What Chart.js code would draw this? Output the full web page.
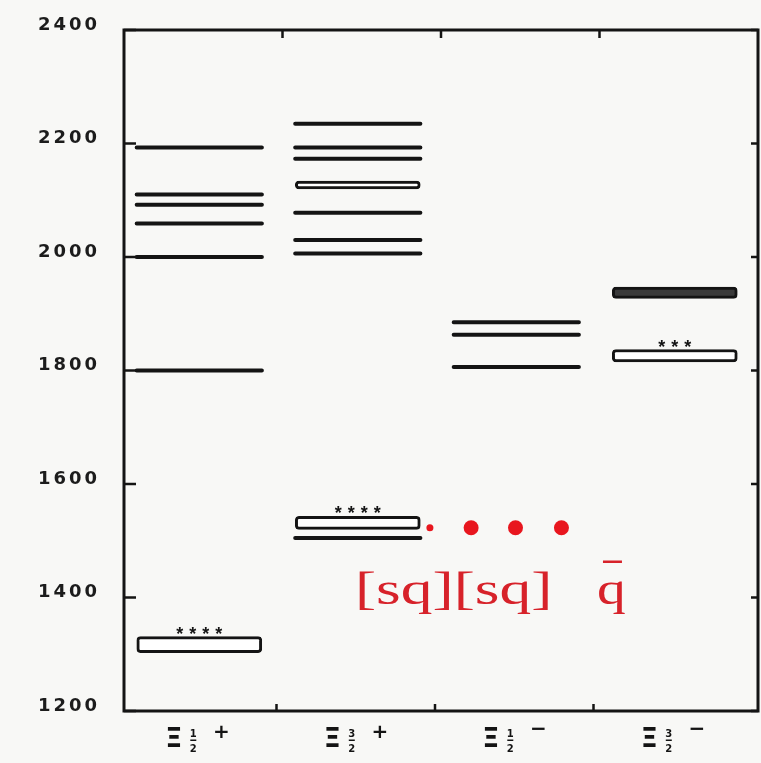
<!DOCTYPE html>
<html>
<head>
<meta charset="utf-8">
<script src="https://cdn.jsdelivr.net/npm/chart.js@4.4.1/dist/chart.umd.min.js"></script>
<style>
  html, body { margin: 0; padding: 0; background: #f8f8f6; overflow: hidden; }
  #wrap { width: 761px; height: 763px; }
  canvas { display: block; }
</style>
</head>
<body>
<div id="wrap"><canvas id="levels"></canvas></div>
<script>
// columns: Xi 1/2+, Xi 3/2+, Xi 1/2-, Xi 3/2-
const categories = ["Ξ1/2+", "Ξ3/2+", "Ξ1/2−", "Ξ3/2−"];
const spinNumerators = ["1", "3", "1", "3"];
const spinDenominator = "2";
const parities = ["+", "+", "−", "−"];
const yTicks = [1200, 1400, 1600, 1800, 2000, 2200, 2400];

// single levels (MeV)
const levelsHalfPlus = [1800, 2000, 2059, 2092, 2110, 2193];
const levelsThreeHalfPlus = [1505, 2006, 2030, 2078, 2173, 2193, 2235];
const levelsHalfMinus = [1806, 1863, 1885];
const levelsThreeHalfMinus = [];

// boxed levels [low, high] (MeV)
const boxesHalfPlus = [[1303, 1331]];
const boxesThreeHalfPlus = [[1520, 1543], [2120, 2134]];
const boxesHalfMinus = [];
const boxesThreeHalfMinus = [[1815, 1837], [1927, 1947]];

// star ratings over the boxes
const starsHalfPlus = ["****"];
const starsThreeHalfPlus = ["****", ""];
const starsHalfMinus = [];
const starsThreeHalfMinus = ["***", ""];

// red diquark prediction
const dotsX = [1.93, 2.19, 2.47, 2.76];
const dotsY = [1523, 1523, 1523, 1523];
const quarkText = "[sq][sq]";
const antiquarkText = "q";
const quarkTextX = 1.457;
const antiquarkTextX = 2.984;
const quarkTextY = 1389;

const levelColumns = [levelsHalfPlus, levelsThreeHalfPlus, levelsHalfMinus, levelsThreeHalfMinus];
const boxColumns = [boxesHalfPlus, boxesThreeHalfPlus, boxesHalfMinus, boxesThreeHalfMinus];
const starColumns = [starsHalfPlus, starsThreeHalfPlus, starsHalfMinus, starsThreeHalfMinus];

const SPAN_FROM = 0.08;
const SPAN_TO = 0.87;
const colCenter = (i) => i + (SPAN_FROM + SPAN_TO) / 2;

const levelPoints = [];
levelColumns.forEach((col, i) => {
  col.forEach((m) => {
    levelPoints.push({ x: i + SPAN_FROM, y: m });
    levelPoints.push({ x: i + SPAN_TO, y: m });
    levelPoints.push({ x: i + SPAN_TO, y: null });
  });
});

const boxPoints = [];
const boxStars = [];
boxColumns.forEach((col, i) => {
  col.forEach((b, k) => {
    boxPoints.push({ x: colCenter(i), y: [b[0], b[1]], dark: i === 3 && k === 1 });
    boxStars.push({ x: colCenter(i), y: b[1], text: starColumns[i][k] || "" });
  });
});

const INK = "#141414";

const noPadding = (s) => {
  s.paddingTop = 0;
  s.paddingBottom = 0;
  s.paddingLeft = 0;
  s.paddingRight = 0;
};

const framePlugin = {
  id: "frame",
  beforeDraw(chart) {
    chart.ctx.letterSpacing = "3px";
  },
  beforeDatasetsDraw(chart) {
    chart.ctx.letterSpacing = "0px";
  },
  afterDraw(chart) {
    const { ctx, chartArea: a, scales } = chart;
    const xs = scales.x;
    const ys = scales.y;
    ctx.save();
    ctx.letterSpacing = "0px";
    ctx.strokeStyle = INK;
    ctx.lineWidth = 3;
    ctx.strokeRect(a.left, a.top, a.right - a.left, a.bottom - a.top);

    // inward ticks
    ctx.lineWidth = 2.5;
    ctx.beginPath();
    yTicks.forEach((v) => {
      const py = ys.getPixelForValue(v);
      ctx.moveTo(a.left, py);
      ctx.lineTo(a.left + 12, py);
      ctx.moveTo(a.right, py);
      ctx.lineTo(a.right - 7, py);
    });
    [1, 2, 3].forEach((v) => {
      const px = xs.getPixelForValue(v);
      ctx.moveTo(px, a.top);
      ctx.lineTo(px, a.top + 8);
      ctx.moveTo(px - 6, a.bottom);
      ctx.lineTo(px - 6, a.bottom - 7);
    });
    ctx.stroke();

    // stars over the boxes
    ctx.fillStyle = INK;
    ctx.font = "bold 18px 'Liberation Sans'";
    ctx.textAlign = "center";
    ctx.textBaseline = "alphabetic";
    ctx.letterSpacing = "6px";
    boxStars.forEach((s) => {
      if (!s.text) return;
      ctx.fillText(s.text, xs.getPixelForValue(s.x) + 3, ys.getPixelForValue(s.y) + 3);
    });
    ctx.letterSpacing = "0px";

    // category labels
    categories.forEach((c, i) => {
      const left = xs.getPixelForValue(colCenter(i)) - 34;
      ctx.fillStyle = INK;
      ctx.textAlign = "left";
      ctx.font = "bold 27px 'DejaVu Sans'";
      ctx.fillText("Ξ", left, 747);
      ctx.textAlign = "center";
      ctx.font = "bold 10px 'DejaVu Sans'";
      const fx = left + 28;
      ctx.fillText(spinNumerators[i], fx, 737);
      ctx.fillText(spinDenominator, fx, 752);
      ctx.fillRect(fx - 3, 739.5, 6, 1.5);
      ctx.font = "bold 20px 'DejaVu Sans'";
      ctx.fillText(parities[i], left + 56, parities[i] === "+" ? 738 : 735);
    });

    // red annotation
    ctx.fillStyle = "#d7222a";
    ctx.strokeStyle = "#d7222a";
    ctx.font = "46px 'Liberation Serif'";
    ctx.textAlign = "left";
    const by = ys.getPixelForValue(quarkTextY);
    const tx = xs.getPixelForValue(quarkTextX);
    ctx.save();
    ctx.translate(tx, by);
    ctx.scale(1.38, 1);
    ctx.fillText(quarkText, 0, 0);
    ctx.restore();
    const qx = xs.getPixelForValue(antiquarkTextX);
    ctx.save();
    ctx.translate(qx, by);
    ctx.scale(1.25, 1);
    ctx.fillText(antiquarkText, 0, 0);
    ctx.restore();
    ctx.lineWidth = 2.5;
    ctx.beginPath();
    ctx.moveTo(qx + 6, by - 42);
    ctx.lineTo(qx + 25, by - 42);
    ctx.stroke();
    ctx.restore();
  },
};

new Chart(document.getElementById("levels"), {
  type: "line",
  data: {
    datasets: [
      {
        type: "bar",
        data: boxPoints,
        barThickness: 125,
        borderWidth: 3,
        borderRadius: 4,
        borderSkipped: false,
        borderColor: INK,
        backgroundColor: (ctx) => (ctx.raw && ctx.raw.dark ? "#3a3a3a" : "#ffffff"),
      },
      {
        type: "line",
        data: levelPoints,
        borderColor: INK,
        borderWidth: 4,
        borderCapStyle: "round",
        pointRadius: 0,
        spanGaps: false,
      },
      {
        type: "line",
        data: dotsX.map((x, k) => ({ x, y: dotsY[k] })),
        showLine: false,
        pointRadius: [3.5, 7.5, 7.5, 7.5],
        pointBackgroundColor: "#e8161e",
        pointBorderWidth: 0,
      },
    ],
  },
  options: {
    responsive: true,
    maintainAspectRatio: false,
    animation: false,
    devicePixelRatio: 1,
    layout: { autoPadding: false, padding: { top: 30, right: 3, left: 0, bottom: 0 } },
    plugins: {
      legend: { display: false },
      tooltip: { enabled: false },
    },
    scales: {
      x: {
        type: "linear",
        min: 0,
        max: 4,
        offset: false,
        grid: { display: false, drawTicks: false },
        border: { display: false },
        ticks: { display: false },
        afterFit: (s) => {
          s.height = 52;
          noPadding(s);
        },
      },
      y: {
        type: "linear",
        min: 1200,
        max: 2400,
        grid: { display: false, drawTicks: false },
        border: { display: false },
        afterBuildTicks: (s) => {
          s.ticks = yTicks.map((v) => ({ value: v }));
        },
        ticks: {
          color: "#1c1c1c",
          padding: 24,
          labelOffset: -5,
          font: { family: "'DejaVu Sans'", weight: "bold", size: 18 },
          callback: (v) => String(v),
        },
        afterFit: (s) => {
          s.width = 124;
          noPadding(s);
        },
      },
    },
  },
  plugins: [framePlugin],
});
</script>
</body>
</html>
